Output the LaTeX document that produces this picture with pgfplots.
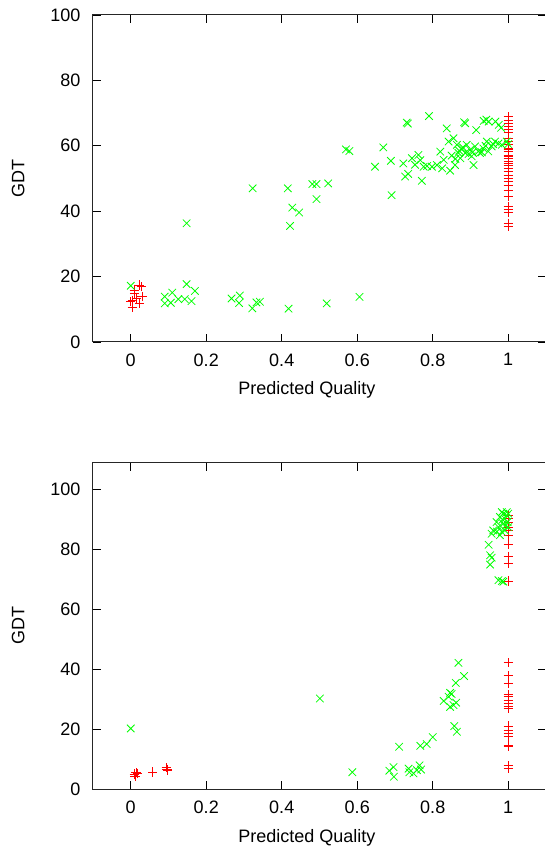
\documentclass[border=0pt]{standalone}
\usepackage{fontspec}
\setmainfont{Liberation Sans}
\usepackage{pgfplots}
\pgfplotsset{compat=1.18}
\definecolor{pgreen}{RGB}{0,255,0}
\definecolor{pred}{RGB}{255,0,0}
\pgfplotsset{
  gp/.style={
    scale only axis, width=453pt,
    xmin=-0.1, xmax=1.1, ymin=0,
    xtick={0,0.2,0.4,0.6,0.8,1},
    ytick={0,20,40,60,80,100},
    tick align=inside, major tick length=8pt,
    every tick/.style={black, line width=0.8pt},
    axis line style={black!85, line width=1pt},
    /pgf/number format/assume math mode=true,
    tick label style={font=\fontsize{18}{20}\selectfont},
    xticklabel style={yshift=-8pt},
    yticklabel style={xshift=-9pt},
    xlabel={Predicted Quality},
    ylabel={GDT},
    every axis x label/.style={at={(axis description cs:0.472,-0.162)}, anchor=base, font=\fontsize{18}{20}\selectfont},
    every axis y label/.style={at={(axis description cs:-0.165,0.5)}, rotate=90, anchor=center, font=\fontsize{18}{20}\selectfont},
    clip=false,
  },
  rp/.style={only marks, mark=+, mark size=4.6pt, color=pred, mark options={line width=0.8pt}},
  gpx/.style={only marks, mark=x, mark size=5.3pt, color=pgreen, mark options={line width=0.8pt}},
}
\begin{document}
\begin{tikzpicture}
\useasboundingbox (0pt,0pt) rectangle (544pt,846pt);
\begin{axis}[gp, at={(93pt,504pt)}, anchor=south west, height=327pt, ymax=100]
\addplot[rp] coordinates {
(0.004,12.8)(0.004,10.5)(0.01,14.9)(0.015,13.3)(0.024,17.4)(0.028,16.9)(0.03,13.9)(0.024,11.8)(0.0,12.3)(0.009,15.9)
(1,68.9)(1,67.9)(1,66.9)(1,65.9)(1,65.0)(1,64.2)(1,62.3)(1,61.3)(1,60.3)(1,59.2)(1,58.2)(1,57.2)(1,56.2)(1,55.2)(1,54.1)(1,53.1)(1,52.1)
(1,51.0)(1,50.0)(1,49.0)(1,48.0)(1,46.5)(1,44.4)(1,41.4)(1,40.4)(1,39.5)(1,36.3)(1,35.5)(1,58.8)(1,56.8)(1,54.7)
};
\addplot[gpx] coordinates {
(0.0,17.2)(0.09,13.9)(0.09,11.8)(0.11,15.1)(0.106,12.0)(0.126,13.1)(0.148,17.7)(0.143,13.1)(0.161,12.5)(0.170,15.6)
(0.267,13.3)(0.289,14.2)(0.287,11.9)(0.322,10.3)(0.333,12.1)(0.342,12.3)(0.418,10.2)(0.519,11.8)(0.606,13.8)
(0.148,36.3)(0.323,47.0)(0.416,47.0)(0.422,35.5)(0.428,41.1)(0.446,39.6)(0.481,48.3)(0.492,48.3)(0.492,43.7)(0.523,48.5)
(0.570,58.9)(0.579,58.4)(0.647,53.6)(0.669,59.5)(0.689,55.4)(0.691,44.9)(0.731,67.1)(0.734,66.8)(0.790,69.1)(0.837,65.3)
(0.883,67.2)(0.886,66.9)(0.915,64.8)(0.935,67.6)(0.942,68.0)(0.948,67.4)(0.966,67.4)(0.975,66.4)(0.981,65.5)
(0.722,54.6)(0.727,50.6)(0.735,51.4)(0.745,56.2)(0.762,57.2)(0.753,54.2)(0.771,49.3)(0.767,55.6)(0.776,53.6)(0.785,53.8)
(0.798,53.6)(0.811,54.1)(0.825,53.1)(0.820,58.2)(0.829,55.7)(0.842,61.3)(0.846,52.4)(0.855,62.3)(0.859,54.1)(0.864,60.3)
(0.868,57.8)(0.873,56.2)(0.877,59.2)(0.886,57.8)(0.890,60.3)(0.899,58.8)(0.903,56.8)(0.908,54.1)(0.912,59.8)(0.921,58.3)
(0.925,57.8)(0.934,59.2)(0.943,61.3)(0.947,58.3)(0.956,59.8)(0.965,61.3)(0.974,60.7)(0.983,60.3)(0.996,61.3)(1.0,60.5)
(0.87,58.5)(0.88,59.5)(0.895,57.5)(0.905,58.0)(0.93,58.0)(0.94,60.0)(0.96,60.5)(0.85,57.0)(0.86,56.0)
};
\end{axis}
\begin{axis}[gp, at={(93pt,56.7pt)}, anchor=south west, height=326.6pt, ymax=109]
\addplot[rp] coordinates {
(0.009,5.1)(0.014,5.5)(0.011,4.2)(0.018,5.3)(0.058,5.8)(0.094,7.2)(0.098,6.2)(0.096,6.7)
(1,42.2)(1,37.9)(1,35.5)(1,31.6)(1,30.9)(1,29.8)(1,28.7)(1,27.8)(1,27.0)(1,21.1)(1,19.8)(1,18.7)(1,17.6)(1,14.8)(1,14.2)(1,7.9)(1,7.0)
(1,91.4)(1,90.3)(1,89.2)(1,87.5)(1,86.4)(1,84.8)(1,81.6)(1,77.8)(1,75.3)(1,69.5)
};
\addplot[gpx] coordinates {
(0,20.3)(0.501,30.3)(0.587,5.7)(0.685,6.2)(0.696,7.4)(0.697,4.2)(0.711,14.2)(0.736,6.9)(0.738,5.7)(0.749,5.3)(0.758,6.4)
(0.765,8.0)(0.769,6.6)(0.767,14.5)(0.784,15.1)(0.800,17.4)(0.829,29.5)(0.842,30.9)(0.846,27.5)(0.850,31.8)(0.855,28.1)
(0.862,28.9)(0.857,21.1)(0.864,19.2)(0.861,35.5)(0.868,42.2)(0.883,37.8)(0.846,32.2)
(0.948,81.6)(0.952,78.1)(0.956,77.3)(0.952,75.0)(0.956,85.3)(0.96,86.4)(0.974,69.8)(0.983,69.5)(0.987,69.3)
(0.969,89.2)(0.974,87.5)(0.978,90.9)(0.983,85.9)(0.987,92.0)(0.987,88.6)(0.991,90.3)(0.996,91.4)(0.998,89.2)(1.0,92.0)
(1.0,87.5)(0.978,84.8)(0.991,86.4)(0.996,92.5)(0.983,92.5)(0.993,88.0)(0.97,86.0)(0.985,90.0)
};
\end{axis}
\end{tikzpicture}
\end{document}
